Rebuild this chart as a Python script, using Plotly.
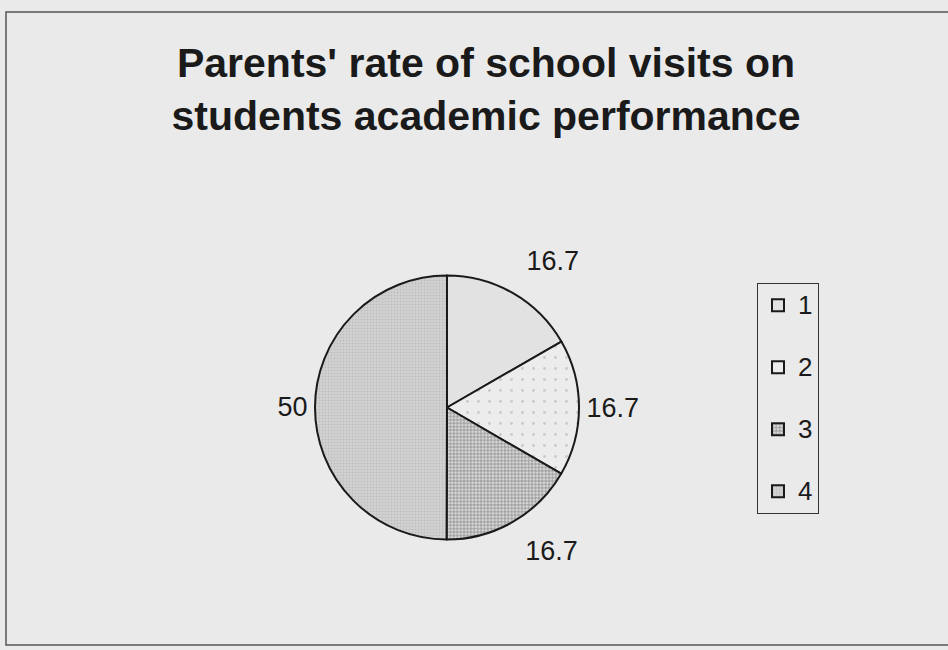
import plotly.graph_objects as go

categories = ["1", "2", "3", "4"]
values = [16.7, 16.7, 16.7, 50]
title_lines = ["Parents' rate of school visits on", "students academic performance"]

slice_colors = ["#e2e2e2", "#ececec", "#dadada", "#d3d3d3"]
pattern_shapes = ["", ".", "+", "."]
pattern_fg = ["#d0d0d0", "#c9c9c9", "#8a8a8a", "#bdbdbd"]
pattern_size = [6, 11, 3.4, 3]
pattern_solidity = [0.2, 0.05, 0.4, 0.3]

LABEL_PX = 27
big = "<span style='font-size:%dpx'>%%{value}</span>" % LABEL_PX
label_templates = [big + "<br> ", "%{value}", " <br>" + big, "%{value}"]
label_sizes = [20, LABEL_PX, 20, LABEL_PX]

W, H = 948, 650
BG = "#eaeaea"
FONT = "Liberation Sans, Arial"

LEGEND_PX = 26
legend_labels = ["<span style='font-size:%dpx'>%s</span>" % (LEGEND_PX, c) for c in categories]
legend_labels = [t + "<br> " for t in legend_labels[:-1]] + [legend_labels[-1]]

fig = go.Figure()
fig.add_trace(go.Pie(
    labels=legend_labels,
    values=values,
    sort=False,
    direction="clockwise",
    rotation=0,
    textinfo="value",
    texttemplate=label_templates,
    textposition="outside",
    outsidetextfont=dict(family=FONT, size=label_sizes, color="#1a1a1a"),
    marker=dict(
        colors=slice_colors,
        line=dict(color="#1a1a1a", width=2),
        pattern=dict(shape=pattern_shapes, fgcolor=pattern_fg, bgcolor=slice_colors,
                     size=pattern_size, solidity=pattern_solidity, fillmode="replace"),
    ),
    domain=dict(x=[315 / W, 579 / W], y=[1 - 543 / H, 1 - 272 / H]),
    hoverinfo="value",
))

fig.update_layout(
    width=W, height=H,
    margin=dict(l=0, r=0, t=0, b=0),
    paper_bgcolor=BG,
    plot_bgcolor=BG,
    title=dict(
        text="<b>" + "<br>".join(title_lines) + "</b>",
        x=486 / W, xanchor="center",
        y=1 - 77 / H, yanchor="top", yref="container",
        font=dict(family=FONT, size=41, color="#1a1a1a"),
    ),
    legend=dict(
        x=757 / W, xanchor="left",
        y=1 - 283 / H, yanchor="top",
        bgcolor=BG, bordercolor="#333333", borderwidth=1,
        font=dict(family=FONT, size=22.7, color="#1a1a1a"),
        valign="top",
        itemwidth=30,
    ),
    shapes=[dict(type="rect", xref="paper", yref="paper",
                 x0=6 / W, x1=1.02, y0=1 - 645 / H, y1=1 - 12 / H,
                 line=dict(color="#555555", width=1.5), fillcolor="rgba(0,0,0,0)")],
)

fig.write_html(
    "out.html",
    config={"displayModeBar": False},
    post_script="document.body.style.margin='0';document.body.style.background='" + BG + "';",
)
